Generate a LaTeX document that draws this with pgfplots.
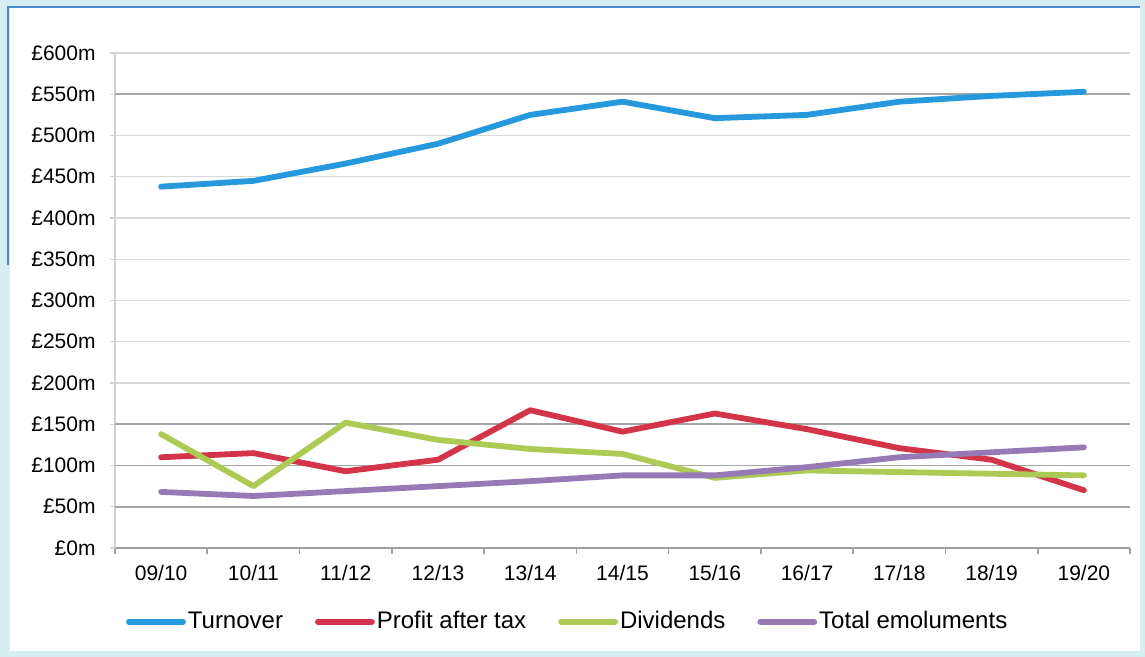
\documentclass[border=0pt]{standalone}
\usepackage{pgfplots}
\pgfplotsset{compat=1.18}
\usepackage{fontspec}
\setmainfont{Liberation Sans}

\definecolor{turnover}{RGB}{38,152,222}
\definecolor{profit}{RGB}{212,52,74}
\definecolor{dividends}{RGB}{172,202,84}
\definecolor{emol}{RGB}{150,122,182}
\definecolor{framecyan}{RGB}{214,238,242}
\definecolor{frameblue}{RGB}{70,140,205}

\pgfplotstableread{
x turnover profit dividends emol
0  438 110 138 68
1  445 115  75 63
2  466  93 152 69
3  490 107 131 75
4  525 167 120 81
5  541 141 114 88
6  521 163  85 88
7  525 144  94 98
8  541 121  92 110
9  548 107  90 116
10 553  70  88 122
}\finances

\begin{document}
\begin{tikzpicture}
% page background and frame
\fill[framecyan] (0pt,0pt) rectangle (572.5pt,328.5pt);
\fill[white] (5pt,3pt) rectangle (570pt,325pt);
\draw[frameblue, line width=0.9pt] (4pt,196pt) -- (4pt,325pt) -- (570pt,325pt);

\begin{axis}[
  at={(57.5pt,54.5pt)}, anchor=south west,
  scale only axis, width=507.5pt, height=247.5pt,
  xmin=-0.5, xmax=10.5, ymin=0, ymax=600,
  axis x line=bottom, axis y line=left,
  axis line style={-},
  x axis line style={draw=gray!75, line width=0.8pt},
  y axis line style={draw=gray!35, line width=0.8pt},
  xtick={0,...,10},
  xticklabels={09/10,10/11,11/12,12/13,13/14,14/15,15/16,16/17,17/18,18/19,19/20},
  minor xtick={-0.5,0.5,...,10.5},
  major x tick style={draw=none},
  minor x tick style={draw=gray!75, line width=0.8pt},
  minor tick length=2.8pt,
  ytick={0,50,...,600},
  yticklabels={£0m,£50m,£100m,£150m,£200m,£250m,£300m,£350m,£400m,£450m,£500m,£550m,£600m},
  major y tick style={draw=gray!35, line width=0.7pt},
  major tick length=2.5pt,
  tick align=outside,
  ymajorgrids,
  grid style={draw=gray!30, line width=0.7pt},
  extra y ticks={50,100,150,550},
  extra y tick labels={},
  extra y tick style={grid style={draw=gray!70, line width=0.8pt}, major tick length=0pt},
  /pgf/number format/assume math mode=true,
  tick label style={font=\fontsize{10.5}{12}\selectfont, inner sep=0pt},
  yticklabel style={xshift=-7pt},
  xticklabel style={yshift=-6pt},
  legend columns=4,
  legend style={at={(0.446,-0.149)}, anchor=center, draw=none, fill=none,
    font=\fontsize{12}{14}\selectfont,
    nodes={inner sep=1pt},
    /tikz/every even column/.append style={column sep=15pt}},
  legend image code/.code={\draw[#1, line cap=round] (0pt,0pt) -- (27pt,0pt);},
  every axis plot/.append style={line width=2.9pt, line join=round, line cap=round},
]
\addplot[turnover] table[x=x, y=turnover] {\finances};
\addlegendentry{Turnover}
\addplot[profit] table[x=x, y=profit] {\finances};
\addlegendentry{Profit after tax}
\addplot[dividends] table[x=x, y=dividends] {\finances};
\addlegendentry{Dividends}
\addplot[emol] table[x=x, y=emol] {\finances};
\addlegendentry{Total emoluments}
\end{axis}
\end{tikzpicture}
\end{document}
